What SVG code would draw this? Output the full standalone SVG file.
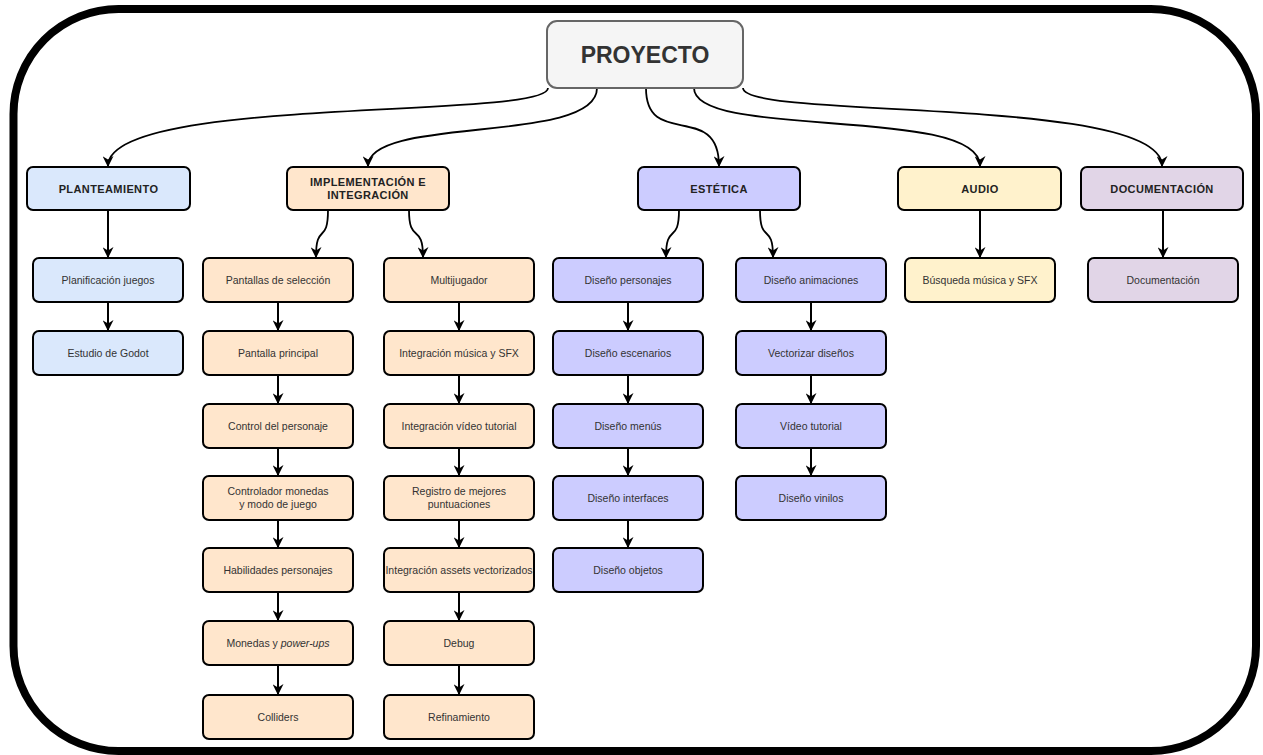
<svg xmlns="http://www.w3.org/2000/svg" width="1263" height="755" viewBox="0 0 1263 755">
  <defs>
    <marker id="arrow" viewBox="0 0 10 10" markerUnits="userSpaceOnUse" markerWidth="11" markerHeight="11" refX="9" refY="5" orient="auto">
      <path d="M0,0 L10,5 L0,10 L3,5 z" fill="#000"/>
    </marker>
    <style>
      .frame { fill: #fff; stroke: #000; stroke-width: 8; }
      .box { stroke: #000; stroke-width: 2; }
      .root { fill: #f5f5f5; stroke: #666; stroke-width: 2; }
      .blue { fill: #dae8fc; }
      .orange { fill: #ffe6cc; }
      .purple { fill: #ccccff; }
      .yellow { fill: #fff2cc; }
      .lilac { fill: #e1d5e7; }
      .edge { fill: none; stroke: #000; stroke-width: 2; marker-end: url(#arrow); }
      .curve { fill: none; stroke: #000; stroke-width: 1.8; marker-end: url(#arrow); }
      text { font-family: "Liberation Sans", Arial, Helvetica, sans-serif; fill: #333; text-anchor: middle; }
      .title { font-size: 23px; font-weight: bold; }
      .head { font-size: 11px; font-weight: bold; letter-spacing: 0.4px; fill: #222; }
      .item { font-size: 10.5px; }
    </style>
  </defs>

  <!-- outer frame -->
  <rect class="frame" x="13.5" y="9" width="1242.5" height="742" rx="105" ry="105"/>

  <!-- connectors -->
  <g id="connectors">
    <path class="curve" d="M548,88 C548,120 108,95 108,166"/>
    <path class="curve" d="M597,88 C597,145 368,115 368,166"/>
    <path class="curve" d="M646,88 C646,150 719,100 719,166"/>
    <path class="curve" d="M694,88 C694,140 980,105 980,166"/>
    <path class="curve" d="M743,88 C743,120 1162,95 1162,166"/>

    <path class="edge" d="M108,210 L108,257"/>
    <path class="edge" d="M108,302 L108,330"/>

    <path class="curve" d="M328,210 C328,245 316,222 316,257"/>
    <path class="curve" d="M409,210 C409,245 423,222 423,257"/>
    <path class="curve" d="M679,210 C679,245 666,222 666,257"/>
    <path class="curve" d="M760,210 C760,245 773,222 773,257"/>

    <path class="edge" d="M278,302 L278,330"/>
    <path class="edge" d="M278,375 L278,403"/>
    <path class="edge" d="M278,448 L278,475"/>
    <path class="edge" d="M278,520 L278,547"/>
    <path class="edge" d="M278,592 L278,620"/>
    <path class="edge" d="M278,665 L278,694"/>

    <path class="edge" d="M459,302 L459,330"/>
    <path class="edge" d="M459,375 L459,403"/>
    <path class="edge" d="M459,448 L459,475"/>
    <path class="edge" d="M459,520 L459,547"/>
    <path class="edge" d="M459,592 L459,620"/>
    <path class="edge" d="M459,665 L459,694"/>

    <path class="edge" d="M628,302 L628,330"/>
    <path class="edge" d="M628,375 L628,403"/>
    <path class="edge" d="M628,448 L628,475"/>
    <path class="edge" d="M628,520 L628,547"/>

    <path class="edge" d="M811,302 L811,330"/>
    <path class="edge" d="M811,375 L811,403"/>
    <path class="edge" d="M811,448 L811,475"/>

    <path class="edge" d="M980,210 L980,257"/>
    <path class="edge" d="M1163,210 L1163,257"/>
  </g>

  <!-- root -->
  <g id="proyecto">
    <rect class="root" x="547" y="21" width="196" height="67" rx="10"/>
    <text class="title" x="645" y="63">PROYECTO</text>
  </g>

  <!-- first level -->
  <g id="planteamiento">
    <rect class="box blue" x="27" y="167" width="163" height="43" rx="6"/>
    <text class="head" x="108.5" y="192.5">PLANTEAMIENTO</text>
  </g>
  <g id="implementacion">
    <rect class="box orange" x="287" y="167" width="162" height="43" rx="6"/>
    <text class="head" x="368" y="186">IMPLEMENTACIÓN E</text>
    <text class="head" x="368" y="199">INTEGRACIÓN</text>
  </g>
  <g id="estetica">
    <rect class="box purple" x="638" y="167" width="162" height="43" rx="6"/>
    <text class="head" x="719" y="192.5">ESTÉTICA</text>
  </g>
  <g id="audio">
    <rect class="box yellow" x="898" y="167" width="163" height="43" rx="6"/>
    <text class="head" x="980" y="192.5">AUDIO</text>
  </g>
  <g id="documentacion">
    <rect class="box lilac" x="1081" y="167" width="162" height="43" rx="6"/>
    <text class="head" x="1162" y="192.5">DOCUMENTACIÓN</text>
  </g>

  <!-- planteamiento tasks -->
  <g id="planificacion-juegos">
    <rect class="box blue" x="33" y="258" width="150" height="44" rx="6"/>
    <text class="item" x="108" y="283.5">Planificación juegos</text>
  </g>
  <g id="estudio-godot">
    <rect class="box blue" x="33" y="331" width="150" height="44" rx="6"/>
    <text class="item" x="108" y="356.5">Estudio de Godot</text>
  </g>

  <!-- implementación: left column -->
  <g id="pantallas-seleccion">
    <rect class="box orange" x="203" y="258" width="150" height="44" rx="6"/>
    <text class="item" x="278" y="283.5">Pantallas de selección</text>
  </g>
  <g id="pantalla-principal">
    <rect class="box orange" x="203" y="331" width="150" height="44" rx="6"/>
    <text class="item" x="278" y="356.5">Pantalla principal</text>
  </g>
  <g id="control-personaje">
    <rect class="box orange" x="203" y="404" width="150" height="44" rx="6"/>
    <text class="item" x="278" y="429.5">Control del personaje</text>
  </g>
  <g id="controlador-monedas">
    <rect class="box orange" x="203" y="476" width="150" height="44" rx="6"/>
    <text class="item" x="278" y="495">Controlador monedas</text>
    <text class="item" x="278" y="508">y modo de juego</text>
  </g>
  <g id="habilidades">
    <rect class="box orange" x="203" y="548" width="150" height="44" rx="6"/>
    <text class="item" x="278" y="573.5">Habilidades personajes</text>
  </g>
  <g id="monedas-powerups">
    <rect class="box orange" x="203" y="621" width="150" height="44" rx="6"/>
    <text class="item" x="278" y="646.5">Monedas y <tspan font-style="italic">power-ups</tspan></text>
  </g>
  <g id="colliders">
    <rect class="box orange" x="203" y="695" width="150" height="44" rx="6"/>
    <text class="item" x="278" y="720.5">Colliders</text>
  </g>

  <!-- implementación: right column -->
  <g id="multijugador">
    <rect class="box orange" x="384" y="258" width="150" height="44" rx="6"/>
    <text class="item" x="459" y="283.5">Multijugador</text>
  </g>
  <g id="integracion-musica">
    <rect class="box orange" x="384" y="331" width="150" height="44" rx="6"/>
    <text class="item" x="459" y="356.5">Integración música y SFX</text>
  </g>
  <g id="integracion-video">
    <rect class="box orange" x="384" y="404" width="150" height="44" rx="6"/>
    <text class="item" x="459" y="429.5">Integración vídeo tutorial</text>
  </g>
  <g id="registro-puntuaciones">
    <rect class="box orange" x="384" y="476" width="150" height="44" rx="6"/>
    <text class="item" x="459" y="495">Registro de mejores</text>
    <text class="item" x="459" y="508">puntuaciones</text>
  </g>
  <g id="integracion-assets">
    <rect class="box orange" x="384" y="548" width="150" height="44" rx="6"/>
    <text class="item" x="459" y="573.5">Integración assets vectorizados</text>
  </g>
  <g id="debug">
    <rect class="box orange" x="384" y="621" width="150" height="44" rx="6"/>
    <text class="item" x="459" y="646.5">Debug</text>
  </g>
  <g id="refinamiento">
    <rect class="box orange" x="384" y="695" width="150" height="44" rx="6"/>
    <text class="item" x="459" y="720.5">Refinamiento</text>
  </g>

  <!-- estética: left column -->
  <g id="diseno-personajes">
    <rect class="box purple" x="553" y="258" width="150" height="44" rx="6"/>
    <text class="item" x="628" y="283.5">Diseño personajes</text>
  </g>
  <g id="diseno-escenarios">
    <rect class="box purple" x="553" y="331" width="150" height="44" rx="6"/>
    <text class="item" x="628" y="356.5">Diseño escenarios</text>
  </g>
  <g id="diseno-menus">
    <rect class="box purple" x="553" y="404" width="150" height="44" rx="6"/>
    <text class="item" x="628" y="429.5">Diseño menús</text>
  </g>
  <g id="diseno-interfaces">
    <rect class="box purple" x="553" y="476" width="150" height="44" rx="6"/>
    <text class="item" x="628" y="501.5">Diseño interfaces</text>
  </g>
  <g id="diseno-objetos">
    <rect class="box purple" x="553" y="548" width="150" height="44" rx="6"/>
    <text class="item" x="628" y="573.5">Diseño objetos</text>
  </g>

  <!-- estética: right column -->
  <g id="diseno-animaciones">
    <rect class="box purple" x="736" y="258" width="150" height="44" rx="6"/>
    <text class="item" x="811" y="283.5">Diseño animaciones</text>
  </g>
  <g id="vectorizar-disenos">
    <rect class="box purple" x="736" y="331" width="150" height="44" rx="6"/>
    <text class="item" x="811" y="356.5">Vectorizar diseños</text>
  </g>
  <g id="video-tutorial">
    <rect class="box purple" x="736" y="404" width="150" height="44" rx="6"/>
    <text class="item" x="811" y="429.5">Vídeo tutorial</text>
  </g>
  <g id="diseno-vinilos">
    <rect class="box purple" x="736" y="476" width="150" height="44" rx="6"/>
    <text class="item" x="811" y="501.5">Diseño vinilos</text>
  </g>

  <!-- audio / documentación tasks -->
  <g id="busqueda-musica">
    <rect class="box yellow" x="905" y="258" width="150" height="44" rx="6"/>
    <text class="item" x="980" y="283.5">Búsqueda música y SFX</text>
  </g>
  <g id="documentacion-tarea">
    <rect class="box lilac" x="1088" y="258" width="150" height="44" rx="6"/>
    <text class="item" x="1163" y="283.5">Documentación</text>
  </g>
</svg>
